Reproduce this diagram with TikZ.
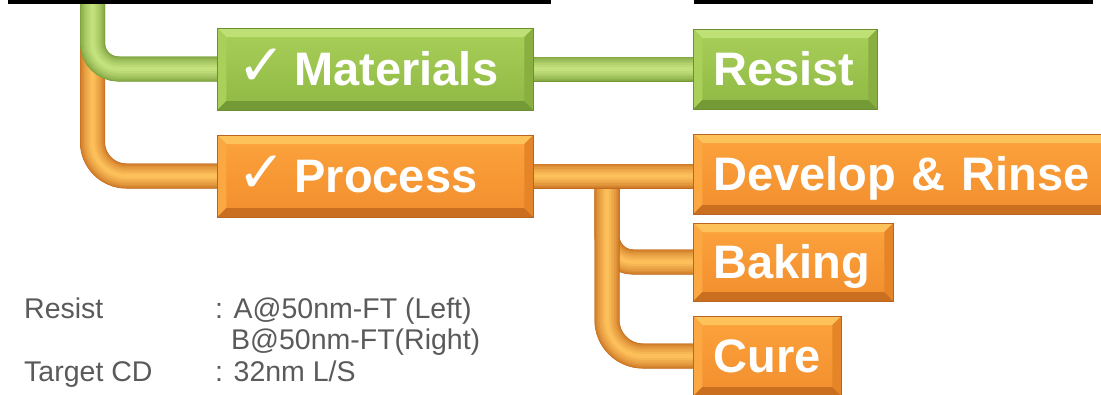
\documentclass[tikz,border=0pt]{standalone}
\usepackage{fontspec}
\setmainfont{Liberation Sans}
\newfontfamily\symfont{DejaVu Sans}
\usetikzlibrary{backgrounds}

% palette
\definecolor{gTop}{HTML}{A8CF58}
\definecolor{gBot}{HTML}{8FB945}
\definecolor{gHiT}{HTML}{BFE074}
\definecolor{gHiL}{HTML}{A9D15A}
\definecolor{gLoB}{HTML}{749A36}
\definecolor{gLoR}{HTML}{88AF40}
\definecolor{gRim}{HTML}{6C8F34}
\definecolor{gPipeRim}{HTML}{759B36}
\definecolor{gPipeCore}{HTML}{C4E27E}
\definecolor{oTop}{HTML}{FCA33C}
\definecolor{oBot}{HTML}{F28E2E}
\definecolor{oHiT}{HTML}{FDC25A}
\definecolor{oHiL}{HTML}{FBA842}
\definecolor{oLoB}{HTML}{CA6F20}
\definecolor{oLoR}{HTML}{E58528}
\definecolor{oRim}{HTML}{B96420}
\definecolor{oPipeRim}{HTML}{C46A1C}
\definecolor{oPipeCore}{HTML}{FDC05A}
\definecolor{infoGray}{HTML}{5A5A5A}

% bevelled edges of a box: top, left (light) and bottom, right (dark)
\newcommand\bevel[4]{%
  \fill[#1] (path picture bounding box.north west) -- (path picture bounding box.north east)
    -- ([shift={(-9pt,-9pt)}]path picture bounding box.north east)
    -- ([shift={(9pt,-9pt)}]path picture bounding box.north west) -- cycle;
  \fill[#2] (path picture bounding box.north west) -- (path picture bounding box.south west)
    -- ([shift={(9pt,9pt)}]path picture bounding box.south west)
    -- ([shift={(9pt,-9pt)}]path picture bounding box.north west) -- cycle;
  \fill[#3] (path picture bounding box.south west) -- (path picture bounding box.south east)
    -- ([shift={(-9pt,9pt)}]path picture bounding box.south east)
    -- ([shift={(9pt,9pt)}]path picture bounding box.south west) -- cycle;
  \fill[#4] (path picture bounding box.north east) -- (path picture bounding box.south east)
    -- ([shift={(-9pt,9pt)}]path picture bounding box.south east)
    -- ([shift={(-9pt,-9pt)}]path picture bounding box.north east) -- cycle;
}

% a shaded tube along a path: layered strokes from rim to core
\newcommand\tube[4]{%
  \foreach \k in {0,...,9}{%
    \pgfmathsetmacro\tw{25*cos(\k*9)}%
    \pgfmathtruncatemacro\tp{\k*11}%
    \draw[#1, line width=\tw pt, draw=#3!\tp!#2] #4;
  }}

\newcommand\checkmk{{\symfont\mdseries\fontsize{58}{58}\selectfont ✓}}

\tikzset{
  box/.style={anchor=west, inner xsep=20pt, inner ysep=0pt, align=left,
    text=white, font=\fontsize{47}{50}\selectfont\bfseries,
    text height=33.6pt, text depth=0pt, line width=0.8pt},
  greenbox/.style={box, draw=gRim, top color=gTop, bottom color=gBot,
    path picture={\bevel{gHiT}{gHiL}{gLoB}{gLoR}}},
  orangebox/.style={box, draw=oRim, top color=oTop, bottom color=oBot,
    path picture={\bevel{oHiT}{oHiL}{oLoB}{oLoR}}},
  info/.style={anchor=base west, inner sep=0pt, text=infoGray,
    font=\fontsize{28.5}{32}\selectfont},
}

\begin{document}
\begin{tikzpicture}[x=1pt, y=-1pt]
\useasboundingbox (0,0) rectangle (1101,394);

% rules along the top edge
\fill[black] (8,0) rectangle (551,4);
\fill[black] (694,0) rectangle (1093,4);

% boxes
\node[greenbox, text width=276pt, minimum height=82pt] (mat) at (217,69)
  {\makebox[57pt][l]{\checkmk}Materials};
\node[greenbox, text width=144pt, minimum height=80pt] (res) at (693,69) {Resist};
\node[orangebox, text width=276pt, minimum height=82pt] (proc) at (217,176)
  {\makebox[57pt][l]{\checkmk}Process};
\node[orangebox, text width=380pt, minimum height=80pt] (dev) at (693,174) {Develop \& Rinse};
\node[orangebox, text width=160pt, minimum height=78pt] (bak) at (693,262) {Baking};
\node[orangebox, text width=108pt, minimum height=80pt] (cure) at (693,356) {Cure};

% tubes behind the boxes
\coordinate (root) at (92.5,0);
\coordinate (fork) at (607,176);
\begin{pgfonlayer}{background}
  \tube{rounded corners=34pt}{oPipeRim}{oPipeCore}{(root) |- (proc.west)}
  \tube{rounded corners=26pt}{gPipeRim}{gPipeCore}{(root) |- (mat.west)}
  \tube{}{gPipeRim}{gPipeCore}{(mat.east) -- (res.west)}
  \tube{rounded corners=26pt}{oPipeRim}{oPipeCore}{(fork) |- (bak.west)}
  \tube{rounded corners=36pt}{oPipeRim}{oPipeCore}{(fork) |- (cure.west)}
  \tube{}{oPipeRim}{oPipeCore}{(proc.east) -- (proc.east -| dev.west)}
\end{pgfonlayer}

% conditions
\node[info] (lblResist) at (24,318) {Resist};
\node[info] (valResistA) at (215,318) {: A@50nm-FT (Left)};
\node[info] (valResistB) at (231,349.5) {B@50nm-FT(Right)};
\node[info] (lblTarget) at (24,381) {Target CD};
\node[info] (valTarget) at (215,381) {: 32nm L/S};
\end{tikzpicture}
\end{document}
